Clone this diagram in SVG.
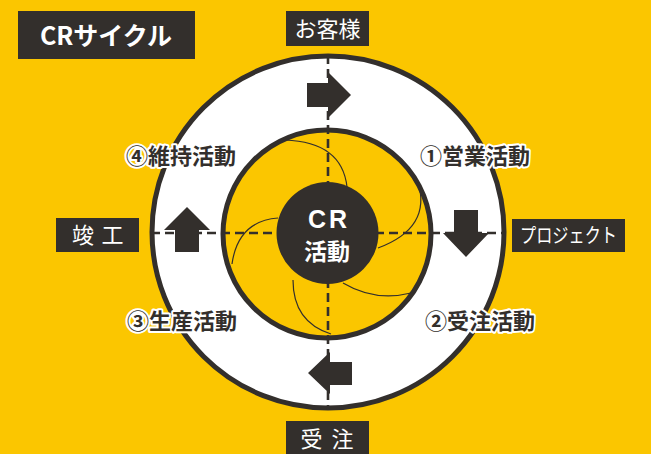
<svg xmlns="http://www.w3.org/2000/svg" width="651" height="454" viewBox="0 0 651 454">
<style>
.bg{fill:#FBC600}
.dark{fill:#332F2C}
.lbl{font-family:"Noto Sans CJK JP","Noto Sans",sans-serif;fill:#fff;text-anchor:middle}
.step{font-family:"Noto Sans CJK JP","Noto Sans",sans-serif;fill:#332F2C;stroke:#fff;stroke-width:4;stroke-linejoin:round;paint-order:stroke;font-weight:bold;font-size:22px;text-anchor:middle}
.dash{fill:none;stroke:#332F2C;stroke-width:2.6;stroke-dasharray:9 5}
.swirl{fill:none;stroke:#332F2C;stroke-width:1.2}
</style>
<rect class="bg" x="0" y="0" width="651" height="454"/>
<g id="rings">
<circle cx="328" cy="232" r="176" fill="#fff" stroke="#332F2C" stroke-width="5"/>
<circle cx="327" cy="234" r="104" fill="#FBC600" stroke="#332F2C" stroke-width="5"/>
</g>
<g id="connectors">
<line class="dash" x1="328" y1="55" x2="328" y2="410"/>
<line class="dash" x1="151" y1="233" x2="505" y2="233"/>
<path class="swirl" d="M285 140 Q342 142 347 187"/>
<path class="swirl" d="M418 182 Q432 228 378 248"/>
<path class="swirl" d="M343 283 Q375 302 411 293"/>
<path class="swirl" d="M293 280 Q293 322 331 334"/>
<path class="swirl" d="M232 264 Q238 221 278 218"/>
<polygon class="dark" points="307,83 328,83 328,72 351,95 328,118 328,107 307,107"/>
<polygon class="dark" points="454,210 478,210 478,233 489,233 466,257 443,233 454,233"/>
<polygon class="dark" points="352,362 330,362 330,352 308,373 330,394 330,385 352,385"/>
<polygon class="dark" points="175,252 199,252 199,230 210,230 187,207 164,230 175,230"/>
</g>
<g id="center">
<circle class="dark" cx="327.5" cy="233" r="51"/>
<text class="lbl" x="329" y="228" font-size="25" font-weight="bold" letter-spacing="3" style="font-family:'Liberation Sans',sans-serif">CR</text>
<text class="lbl" x="327" y="259.5" font-size="23" font-weight="bold">活動</text>
</g>
<g id="title">
<rect class="dark" x="18" y="11" width="177" height="48"/>
<text class="lbl" x="106" y="45" font-size="25" font-weight="bold">CRサイクル</text>
</g>
<g id="customer">
<rect class="dark" x="286" y="11" width="83" height="35"/>
<text class="lbl" x="327.5" y="37" font-size="22">お客様</text>
</g>
<g id="completion">
<rect class="dark" x="56" y="218" width="83" height="34"/>
<text class="lbl" y="243" font-size="22"><tspan x="83">竣</tspan><tspan x="112.5">工</tspan></text>
</g>
<g id="project">
<rect class="dark" x="512" y="219" width="113" height="33"/>
<text class="lbl" x="568.5" y="243" font-size="20" textLength="97" lengthAdjust="spacingAndGlyphs">プロジェクト</text>
</g>
<g id="order">
<rect class="dark" x="286" y="421" width="83" height="33"/>
<text class="lbl" y="447" font-size="22"><tspan x="311.5">受</tspan><tspan x="342.5">注</tspan></text>
</g>
<g id="step1"><text class="step" x="475" y="164">①営業活動</text></g>
<g id="step2"><text class="step" x="480" y="329">②受注活動</text></g>
<g id="step3"><text class="step" x="182" y="329">③生産活動</text></g>
<g id="step4"><text class="step" x="181" y="164">④維持活動</text></g>
</svg>
